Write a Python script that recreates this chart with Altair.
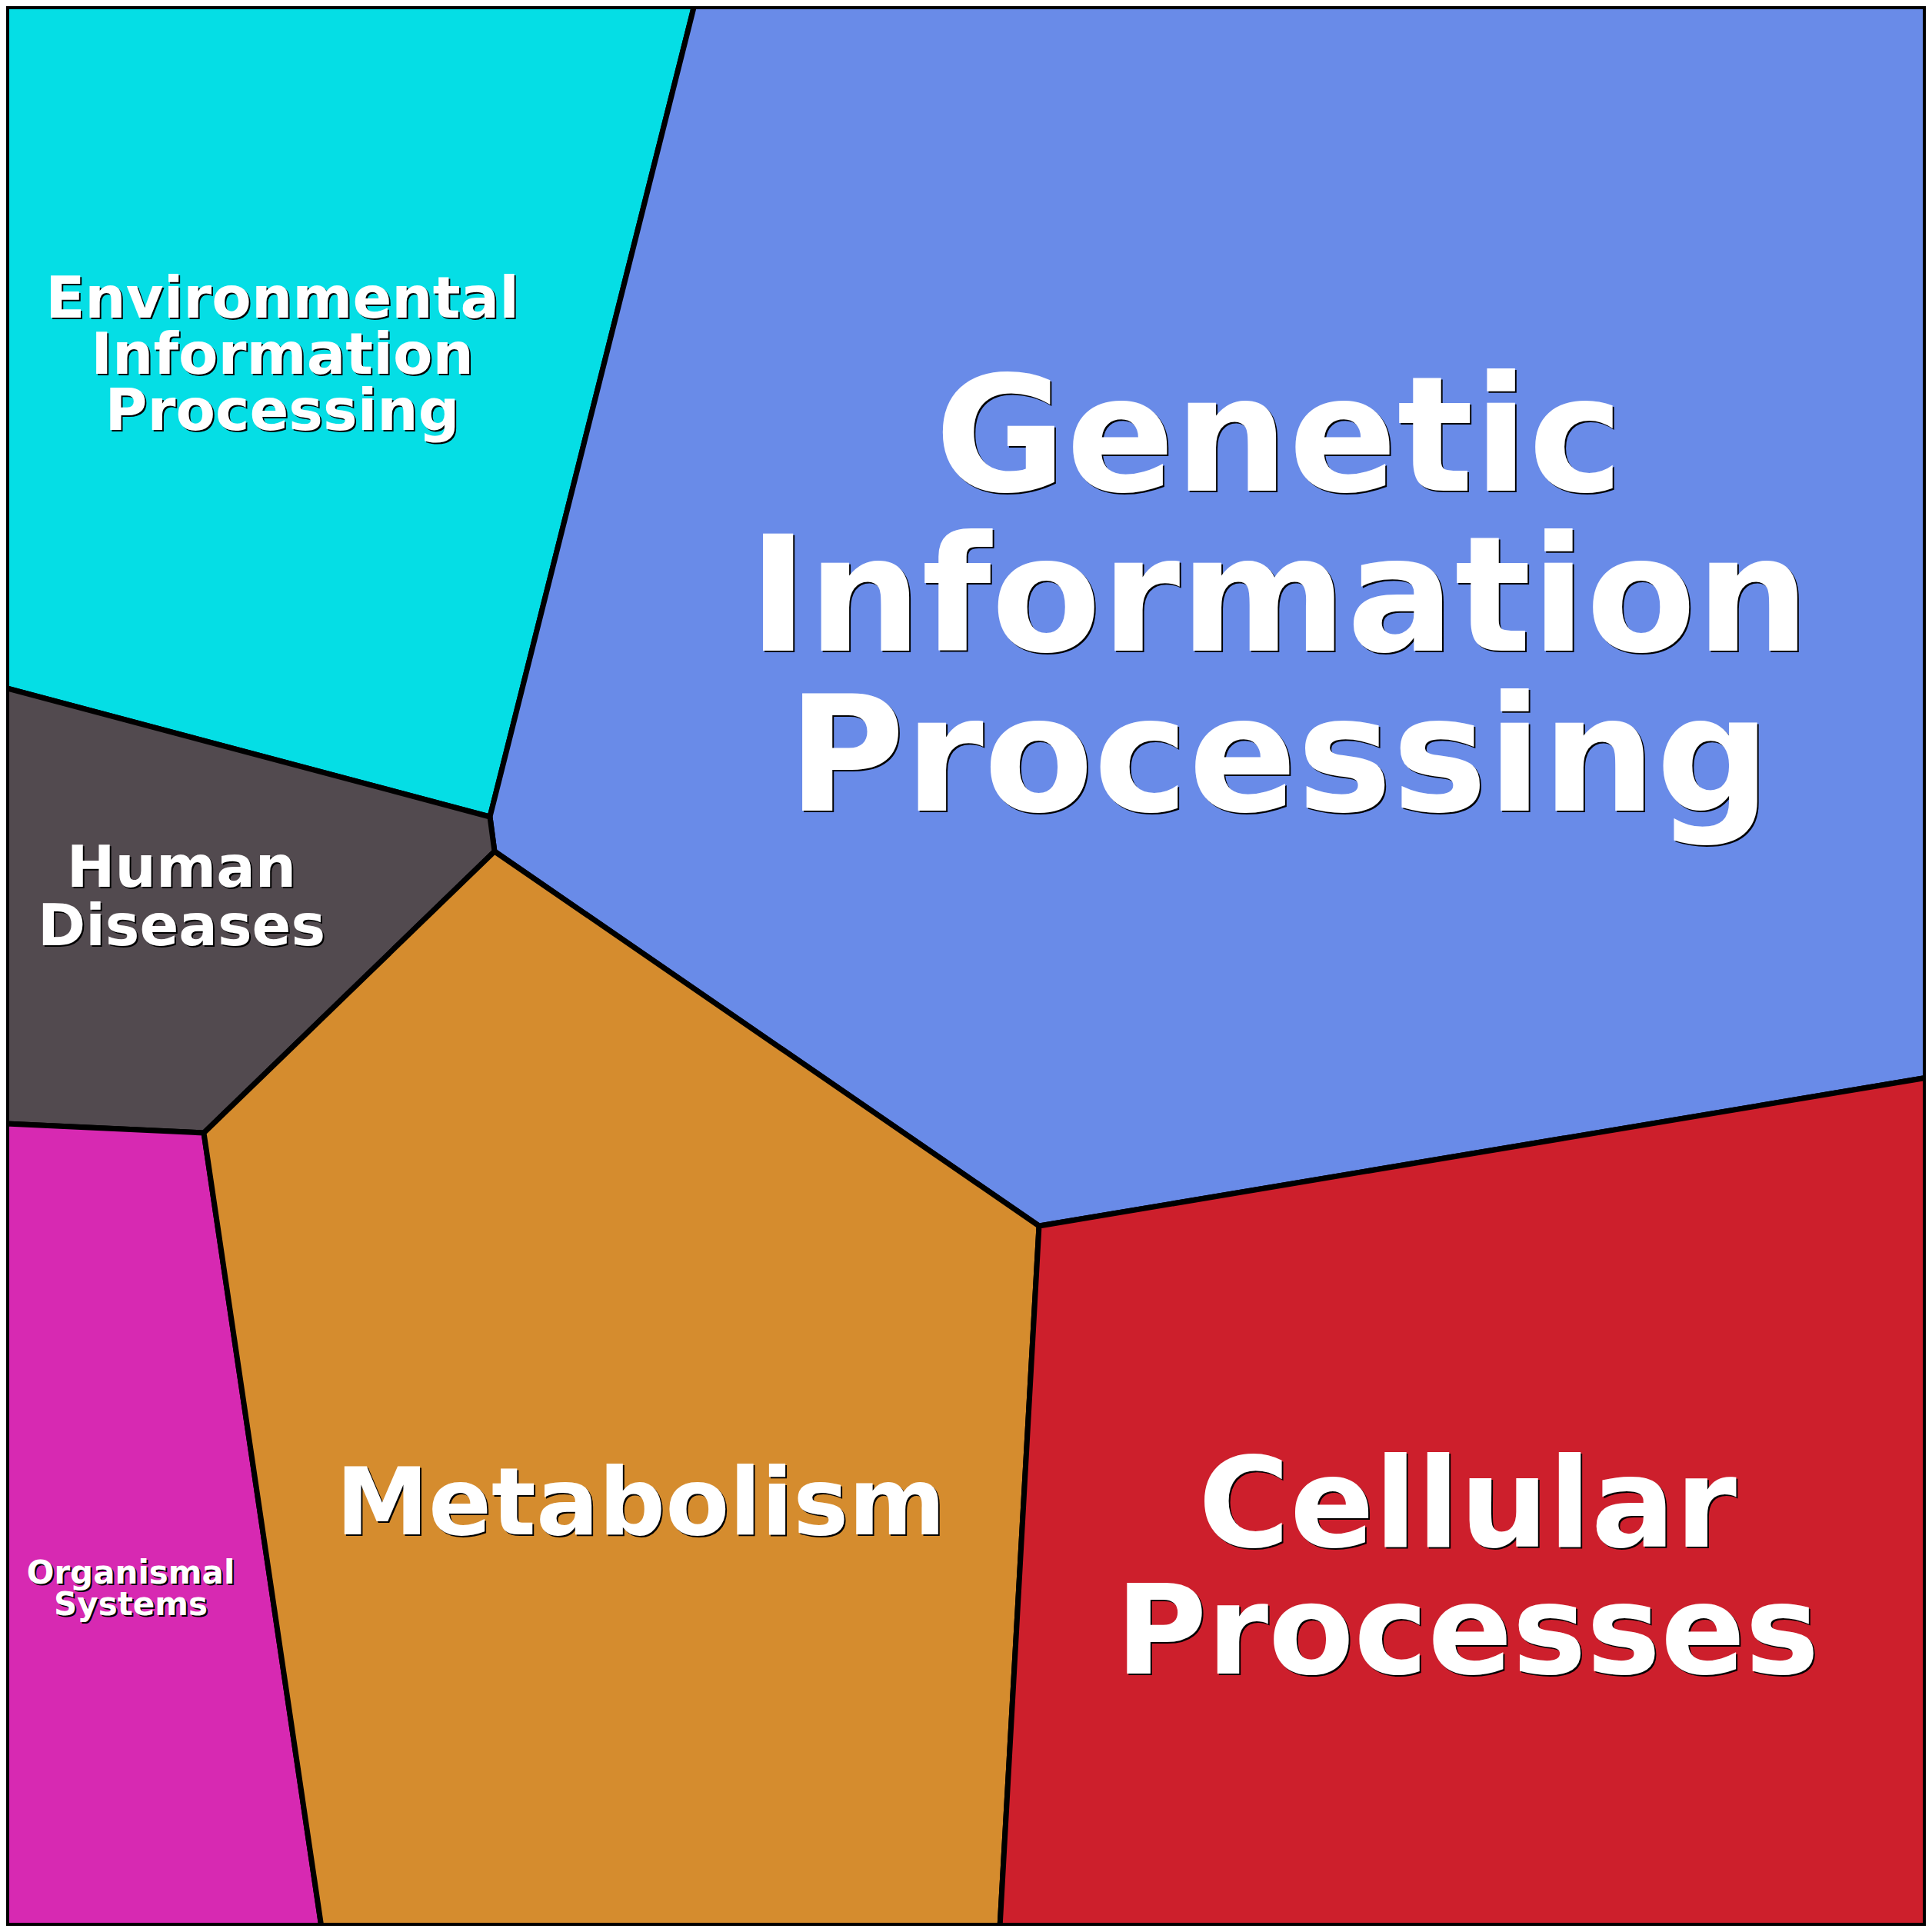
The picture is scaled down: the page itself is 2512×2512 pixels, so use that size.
import altair as alt

# ---- data -------------------------------------------------------------
names = ["Environmental Information Processing", "Genetic Information Processing",
         "Human Diseases", "Organismal Systems", "Metabolism", "Cellular Processes"]
colors = ["#05DEE5", "#698BE8", "#524A4F", "#D729B2", "#D58C2E", "#CD1F2C"]

# cell outlines (reference pixel coordinates)
cell_env = [(6, 6), (903, 6), (637, 1062), (6, 894)]
cell_gen = [(903, 6), (2506, 6), (2506, 1401), (1351, 1594), (643, 1107), (637, 1062)]
cell_hum = [(6, 894), (637, 1062), (643, 1107), (265, 1473), (6, 1461)]
cell_org = [(6, 1461), (265, 1473), (418, 2506), (6, 2506)]
cell_met = [(643, 1107), (1351, 1594), (1300, 2506), (418, 2506), (265, 1473)]
cell_cel = [(1351, 1594), (2506, 1401), (2506, 2506), (1300, 2506)]
cells = [cell_env, cell_gen, cell_hum, cell_org, cell_met, cell_cel]

label_lines = [["Environmental", "Information", "Processing"],
               ["Genetic", "Information", "Processing"],
               ["Human", "Diseases"],
               ["Organismal", "Systems"],
               ["Metabolism"],
               ["Cellular", "Processes"]]
label_x = [367, 1663, 236, 170, 833, 1908]
label_y = [413, 638, 1153, 2059, 1995, 2011]
label_size = [75, 208, 75, 42, 121, 162]
label_lh = [73, 208, 76, 41, 121, 165]

frame = [(6, 6), (2506, 6), (2506, 2506), (6, 2506)]

# ---- build ------------------------------------------------------------
def ring(pts):
    r = [list(p) for p in pts]
    return r + [r[0]]

features = [
    {"type": "Feature",
     "geometry": {"type": "Polygon", "coordinates": [ring(c)]},
     "properties": {"name": n, "color": col}}
    for n, c, col in zip(names, cells, colors)
]

proj = dict(type="identity", scale=1, translate=[-8, -8])

cells_layer = alt.Chart(alt.Data(values=features)).mark_geoshape(
    stroke="black", strokeWidth=7, strokeJoin="miter"
).encode(
    fill=alt.Fill("properties.color:N", scale=None)
).project(**proj)

frame_layer = alt.Chart(alt.Data(values=[
    {"type": "Feature",
     "geometry": {"type": "Polygon", "coordinates": [ring(frame)]},
     "properties": {"name": "frame"}}
])).mark_geoshape(
    filled=False, stroke="black", strokeWidth=12, strokeJoin="round"
).project(**proj)

layers = [cells_layer, frame_layer]
for lines, x, y, fs, lh in zip(label_lines, label_x, label_y, label_size, label_lh):
    src = alt.Data(values=[{"x": x, "y": y}])
    for col, off in (("black", 2), ("white", 0)):
        layers.append(
            alt.Chart(src).mark_text(
                text=lines, font="DejaVu Sans", fontWeight="bold", fontSize=fs,
                lineHeight=lh, align="center", baseline="alphabetic",
                color=col, dx=off, dy=off
            ).encode(
                longitude="x:Q", latitude="y:Q"
            ).project(**proj)
        )

chart = alt.layer(*layers).properties(
    width=2496, height=2496, padding=0
).configure_view(stroke=None)

chart.save("out.html", embed_options={"renderer": "svg", "actions": False})
